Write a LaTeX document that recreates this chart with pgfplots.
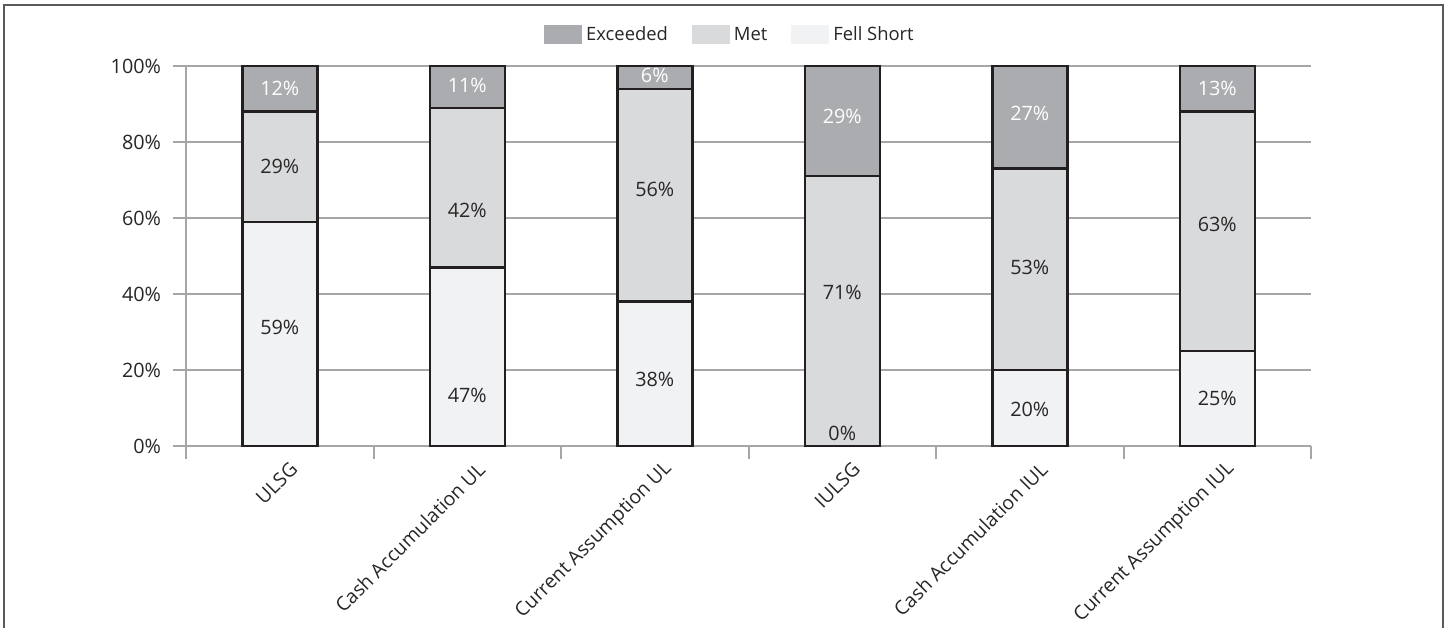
\documentclass[border=0pt]{standalone}
\usepackage{pgfplots}
\pgfplotsset{compat=1.18}
\usepackage{fontspec}
\setmainfont{Open Sans}

\definecolor{excgray}{RGB}{171,172,175}
\definecolor{metgray}{RGB}{217,218,220}
\definecolor{fellgray}{RGB}{241,242,244}
\definecolor{gridgray}{RGB}{166,166,166}
\definecolor{barline}{RGB}{35,31,32}
\definecolor{textdark}{RGB}{40,38,38}
\definecolor{framegray}{RGB}{90,90,90}

% stacked shares (percent)
\pgfplotstableread{
x fell met exc
0 59 29 12
1 47 42 11
2 38 56 6
3 0 71 29
4 20 53 27
5 25 63 12
}\shares

\begin{document}
\begin{tikzpicture}[font=\fontsize{9.9bp}{11.5bp}\selectfont, text=textdark]
\begin{axis}[
    set layers,
    at={(0,0)}, anchor=south west,
    scale only axis,
    width=562.5bp, height=190bp,
    xmin=-0.5, xmax=5.5,
    ymin=0, ymax=100,
    ybar stacked,
    bar width=37.5bp,
    axis x line*=bottom,
    axis y line*=left,
    axis line style={draw=gridgray, line width=1bp, on layer=axis foreground},
    ymajorgrids,
    grid style={draw=gridgray, line width=1bp},
    tick align=outside,
    major tick length=6.5bp,
    tick style={draw=gridgray, line width=1bp},
    ytick={0,20,40,60,80,100},
    yticklabels={0\%,20\%,40\%,60\%,80\%,100\%},
    yticklabel style={xshift=-2.5bp},
    xtick={-0.5,0.5,1.5,2.5,3.5,4.5,5.5},
    xticklabels={},
    extra x ticks={0,1,2,3,4,5},
    extra x tick labels={ULSG, Cash Accumulation UL, Current Assumption UL, IULSG, Cash Accumulation IUL, Current Assumption IUL},
    extra x tick style={major tick length=0pt, tick style={draw=none},
        tick label style={rotate=45, anchor=east, yshift=-12bp, xshift=1.5bp,
            font=\fontsize{9.7bp}{11.5bp}\selectfont}},
    clip=false,
    legend style={at={(0.4844,1.0816)}, anchor=center, draw=none, fill=none,
        legend columns=3, /tikz/every even column/.append style={column sep=10bp},
        legend cell align=left, font=\fontsize{9.2bp}{11bp}\selectfont},
    legend image code/.code={\fill[#1, draw=none] (0bp,-4.75bp) rectangle (19bp,4.75bp);},
    reverse legend,
]
\addplot[fill=fellgray, draw=barline, line width=1.25bp] table[x=x, y=fell] {\shares};
\addplot[fill=metgray, draw=barline, line width=1.25bp] table[x=x, y=met] {\shares};
\addplot[fill=excgray, draw=barline, line width=1.25bp] table[x=x, y=exc] {\shares};
\legend{Fell Short, Met, Exceeded}
\end{axis}
% value labels
\begin{axis}[
    at={(0,0)}, anchor=south west,
    scale only axis,
    width=562.5bp, height=190bp,
    xmin=-0.5, xmax=5.5,
    ymin=0, ymax=100,
    hide axis, clip=false,
]
\addplot[draw=none, mark=none, nodes near coords, point meta=explicit symbolic,
    every node near coord/.append style={anchor=center, text=textdark, inner sep=0pt}]
coordinates {
(0,73.5)[29\%] (0,31.3)[59\%]
(1,62)[42\%] (1,13.2)[47\%]
(2,67.4)[56\%] (2,17.4)[38\%]
(3,40.3)[71\%] (3,3.4)[0\%]
(4,47.1)[53\%] (4,9.7)[20\%]
(5,58.2)[63\%] (5,12.4)[25\%]
};
\addplot[draw=none, mark=none, nodes near coords, point meta=explicit symbolic,
    every node near coord/.append style={anchor=center, text=white, inner sep=0pt}]
coordinates {
(0,94)[12\%] (1,95)[11\%] (2,97.4)[6\%] (3,86.6)[29\%] (4,87.6)[27\%] (5,94.2)[13\%]
};
\end{axis}
\draw[framegray, line width=1bp] (-91bp,-100bp) -- (-91bp,220.5bp) -- (628.5bp,220.5bp) -- (628.5bp,-100bp);
\pgfresetboundingbox
\path[use as bounding box] (-93bp,-91bp) rectangle (630.5bp,223bp);
\end{tikzpicture}
\end{document}
